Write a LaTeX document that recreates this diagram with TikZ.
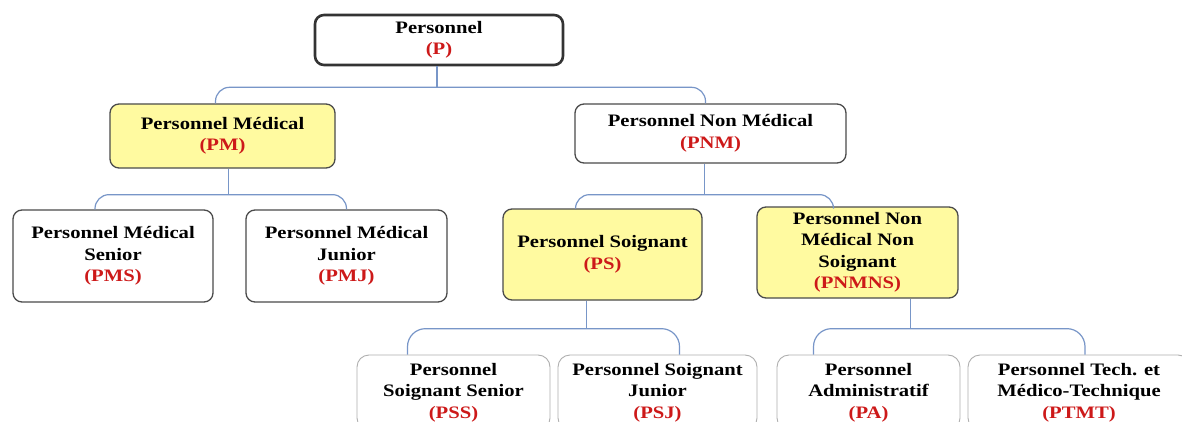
\documentclass[tikz,border=0pt]{standalone}
\usepackage{fontspec}
\usepackage{tikz}
\usetikzlibrary{calc,positioning}
\newfontfamily\boxfont{Liberation Serif}[FakeStretch=1.18]
\definecolor{boxline}{RGB}{75,75,75}
\definecolor{softline}{RGB}{175,175,175}
\definecolor{boxyellow}{RGB}{255,250,160}
\definecolor{linkblue}{RGB}{120,150,200}
\definecolor{codered}{RGB}{205,25,25}
\newcommand{\sigle}[1]{\textcolor{codered}{#1}}
\tikzset{
  wbox/.style={draw=boxline, fill=white, rounded corners=9pt, line width=1.3pt,
               align=center, inner sep=2pt,
               font=\boxfont\bfseries\fontsize{17.5}{21.5}\selectfont},
  ybox/.style={wbox, fill=boxyellow},
  lbox/.style={wbox, draw=softline, line width=0.9pt, rounded corners=12pt},
  rootbox/.style={wbox, draw=black!80, line width=2.6pt},
  link/.style={linkblue, line width=1.2pt},
}
\begin{document}
\begin{tikzpicture}[x=1pt,y=1pt]
  \path[use as bounding box, fill=white] (0,0) rectangle (1182,421);
  \clip (0,0) rectangle (1182,421);
  % niveau 0 et 1
  \node[rootbox, minimum width=248pt, minimum height=50pt] (p) at (439,381) {Personnel\\\sigle{(P)}};
  \node[ybox, minimum width=225pt, minimum height=64pt] (pm) at (222.5,285) {Personnel Médical\\\sigle{(PM)}};
  \node[wbox, minimum width=271pt, minimum height=59pt] (pnm) at (710.5,287.5) {Personnel Non Médical\\\sigle{(PNM)}};
  % niveau 2
  \node[wbox, minimum width=200pt, minimum height=92pt] (pms) at (113,165) {Personnel Médical\\Senior\\\sigle{(PMS)}};
  \node[wbox, minimum width=201pt, minimum height=92pt] (pmj) at (346.5,165) {Personnel Médical\\Junior\\\sigle{(PMJ)}};
  \node[ybox, minimum width=199pt, minimum height=91pt] (ps) at (602.5,166.5) {Personnel Soignant\\\sigle{(PS)}};
  \node[ybox, minimum width=201pt, minimum height=91pt] (pnmns) at (857.5,168.5) {Personnel Non\\Médical Non\\Soignant\\\sigle{(PNMNS)}};
  % niveau 3
  \node[lbox, minimum width=193pt, minimum height=75pt] (pss) at (453.5,28.5) {Personnel\\Soignant Senior\\\sigle{(PSS)}};
  \node[lbox, minimum width=199pt, minimum height=75pt] (psj) at (657.5,28.5) {Personnel Soignant\\Junior\\\sigle{(PSJ)}};
  \node[lbox, minimum width=183pt, minimum height=75pt] (pa) at (868.5,28.5) {Personnel\\Administratif\\\sigle{(PA)}};
  \node[lbox, minimum width=222pt, minimum height=75pt] (ptmt) at (1079,28.5) {Personnel Tech. et\\Médico-Technique\\\sigle{(PTMT)}};
  % accolades
  \draw[link] ([xshift=-2pt]p.south) -- ++(0,-21) coordinate (jp);
  \draw[link, rounded corners=14pt] ([xshift=-7pt]pm.north) |- (jp) -| ([xshift=-5pt]pnm.north);
  \draw[link] ([xshift=6pt]pm.south) -- ++(0,-26) coordinate (jpm);
  \draw[link, rounded corners=14pt] ([xshift=-18pt]pms.north) |- (jpm) -| (pmj.north);
  \draw[link] ([xshift=-6pt]pnm.south) -- ++(0,-31) coordinate (jpnm);
  \draw[link, rounded corners=14pt] ([xshift=-27pt]ps.north) |- (jpnm) -| ([xshift=-24pt]pnmns.north);
  \draw[link] ([xshift=-16pt]ps.south) -- ++(0,-28) coordinate (jps);
  \draw[link, rounded corners=18pt] ([xshift=-46pt]pss.north) |- (jps) -| ([xshift=22pt]psj.north);
  \draw[link] ([xshift=53pt]pnmns.south) -- ++(0,-30) coordinate (jpn);
  \draw[link, rounded corners=18pt] ([xshift=-55pt]pa.north) |- (jpn) -| ([xshift=6pt]ptmt.north);
\end{tikzpicture}
\end{document}
